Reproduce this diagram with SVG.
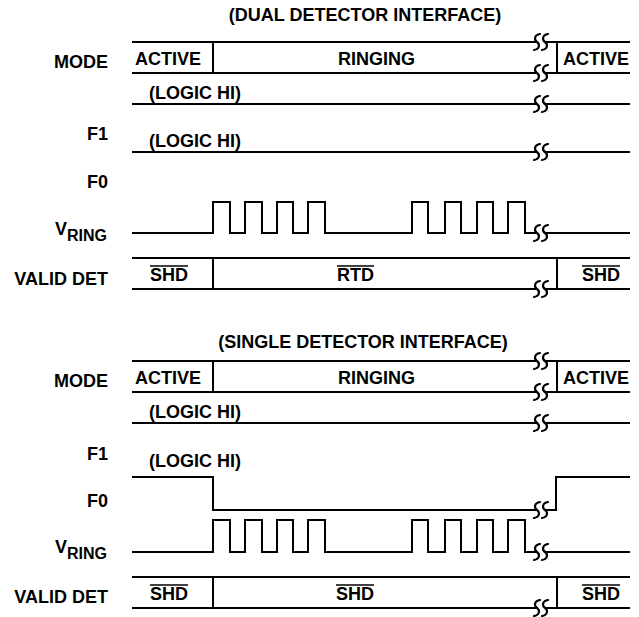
<svg xmlns="http://www.w3.org/2000/svg" xmlns:xlink="http://www.w3.org/1999/xlink" width="639" height="617" viewBox="0 0 639 617">
<style>
text{font-family:"Liberation Sans",Arial,sans-serif;font-weight:bold;font-size:18px;fill:#000}
.lbl{text-anchor:end}
.sub{font-size:16px}
.ttl{text-anchor:middle}
.w{fill:none;stroke:#000;stroke-width:2;stroke-linejoin:miter;stroke-linecap:butt}
.ol{stroke:#000;stroke-width:1.5}
.sq{fill:none;stroke:#000;stroke-width:2.2;stroke-linecap:round}
</style>
<defs>
<g id="brk" class="sq">
<path d="M-1,-8 C-7,-7 -7,-2 -4,0 C-1,2 -1,7 -7,8"/>
<path d="M7,-8 C1,-7 1,-2 4,0 C7,2 7,7 1,8"/>
</g>
</defs>
<rect width="639" height="617" fill="#fff"/>

<g id="dual">
<text class="ttl" x="365" y="21">(DUAL DETECTOR INTERFACE)</text>
<g id="dual-mode">
<text class="lbl" x="108" y="68">MODE</text>
<path class="w" d="M132,42H537M545,42H630M132,73H537M545,73H630M213,42V73M557,42V73"/>
<use xlink:href="#brk" x="541" y="42"/>
<use xlink:href="#brk" x="541" y="73"/>
<text x="135" y="65">ACTIVE</text>
<text x="338" y="65">RINGING</text>
<text x="563" y="65">ACTIVE</text>
<text x="149" y="99">(LOGIC HI)</text>
<path class="w" d="M132,104H537M545,104H630"/>
<use xlink:href="#brk" x="541" y="104"/>
</g>
<g id="dual-f1">
<text class="lbl" x="108" y="140">F1</text>
<text x="149" y="147">(LOGIC HI)</text>
<path class="w" d="M132,152H537M545,152H630"/>
<use xlink:href="#brk" x="541" y="152"/>
</g>
<g id="dual-f0">
<text class="lbl" x="108" y="188">F0</text>
</g>
<g id="dual-vring">
<text x="55" y="235">V<tspan class="sub" dy="6">RING</tspan></text>
<path class="w" d="M132,233H213V202H230V233H245V202H262V233H277V202H293V233H308V202H325V233H412V202H428V233H445V202H461V233H477V202H493V233H508V202H525V233H537M545,233H630"/>
<use xlink:href="#brk" x="541" y="233"/>
</g>
<g id="dual-valid">
<text class="lbl" x="108" y="285">VALID DET</text>
<path class="w" d="M132,258H630M132,289H537M545,289H630M213,258V289M557,258V289"/>
<use xlink:href="#brk" x="541" y="289"/>
<text x="150" y="281">SHD</text>
<line class="ol" x1="150" y1="266" x2="188" y2="266"/>
<text x="337" y="281">RTD</text>
<line class="ol" x1="337" y1="266" x2="374" y2="266"/>
<text x="582" y="281">SHD</text>
<line class="ol" x1="582" y1="266" x2="620" y2="266"/>
</g>
</g>

<g id="single">
<text class="ttl" x="363" y="348">(SINGLE DETECTOR INTERFACE)</text>
<g id="single-mode">
<text class="lbl" x="108" y="387">MODE</text>
<path class="w" d="M132,361H537M545,361H630M132,392H537M545,392H630M213,361V392M557,361V392"/>
<use xlink:href="#brk" x="541" y="361"/>
<use xlink:href="#brk" x="541" y="392"/>
<text x="135" y="384">ACTIVE</text>
<text x="338" y="384">RINGING</text>
<text x="563" y="384">ACTIVE</text>
<text x="149" y="418">(LOGIC HI)</text>
<path class="w" d="M132,423H537M545,423H630"/>
<use xlink:href="#brk" x="541" y="423"/>
</g>
<g id="single-f1">
<text class="lbl" x="108" y="460">F1</text>
<text x="149" y="467">(LOGIC HI)</text>
</g>
<g id="single-f0">
<text class="lbl" x="108" y="507">F0</text>
<path class="w" d="M132,477H213V510H537M545,510H556V477H630"/>
<use xlink:href="#brk" x="541" y="510"/>
</g>
<g id="single-vring">
<text x="55" y="553">V<tspan class="sub" dy="6">RING</tspan></text>
<path class="w" d="M132,552H213V520H230V552H245V520H262V552H277V520H293V552H308V520H325V552H412V520H428V552H445V520H461V552H477V520H493V552H508V520H525V552H537M545,552H630"/>
<use xlink:href="#brk" x="541" y="552"/>
</g>
<g id="single-valid">
<text class="lbl" x="108" y="603">VALID DET</text>
<path class="w" d="M132,577H630M132,608H537M545,608H630M213,577V608M557,577V608"/>
<use xlink:href="#brk" x="541" y="608"/>
<text x="150" y="600">SHD</text>
<line class="ol" x1="150" y1="585" x2="188" y2="585"/>
<text x="336" y="600">SHD</text>
<line class="ol" x1="336" y1="585" x2="374" y2="585"/>
<text x="582" y="600">SHD</text>
<line class="ol" x1="582" y1="585" x2="620" y2="585"/>
</g>
</g>
</svg>
